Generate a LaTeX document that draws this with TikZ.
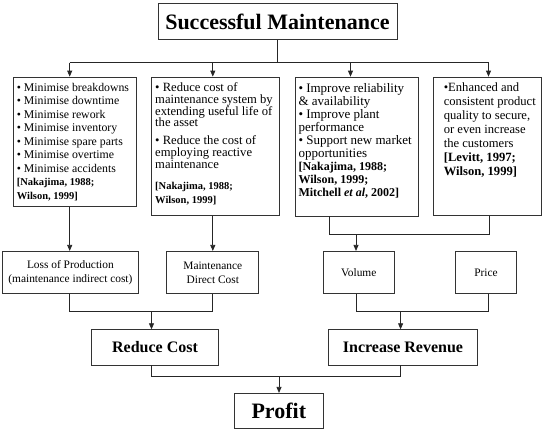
\documentclass[tikz,border=0pt]{standalone}
\usepackage{fontspec}
\setmainfont{Liberation Serif}
\usetikzlibrary{arrows.meta}

\tikzset{
  box/.style={draw=black!80,line width=0.75pt,inner sep=0pt},
  headbox/.style={box,font=\bfseries\fontsize{22}{24}\selectfont},
  sumbox/.style={box,font=\bfseries\fontsize{16}{18}\selectfont},
  costbox/.style={box,align=center,font=\fontsize{11.4}{13.8}\selectfont},
  infobox/.style={box,inner xsep=3.5pt,inner ysep=6pt},
  link/.style={black!85,line width=0.75pt},
}
\newcommand{\refs}[1]{\textbf{#1}}

\begin{document}
\begin{tikzpicture}[x=1pt,y=-1pt,>={Triangle[length=6pt,width=5pt]}]
  \useasboundingbox (0,0) rectangle (546,431);
  \node[headbox,minimum width=239pt,minimum height=36.3pt] (title) at (277.4,21.5) {Successful Maintenance};

  % what maintenance does
  \node[infobox,font=\fontsize{11.8}{13.5}\selectfont] (goals) at (74.65,141.85)
    {\parbox[c][117.7pt][t]{115.7pt}{\raggedright
      • Minimise breakdowns\\ • Minimise downtime\\ • Minimise rework\\
      • Minimise inventory\\ • Minimise spare parts\\ • Minimise overtime\\
      • Minimise accidents\\
      {\fontsize{10.5}{13.5}\selectfont\refs{[Nakajima, 1988;\\ Wilson, 1999]}}}};
  \node[infobox,font=\fontsize{12.6}{11.7}\selectfont] (asset) at (215.35,146.35)
    {\parbox[c][126.7pt][t]{120.3pt}{\raggedright
      • Reduce cost of\\ maintenance system by\\ extending useful life of\\ the asset\\[6pt]
      • Reduce the cost of\\ employing reactive\\ maintenance\\[6pt]
      {\fontsize{10.5}{15}\selectfont\refs{[Nakajima, 1988;\\[3pt] Wilson, 1999]}}}};
  \node[infobox,font=\fontsize{13}{13.1}\selectfont] (perf) at (356.65,146.5)
    {\parbox[c][127pt][t]{116.3pt}{\raggedright
      • Improve reliability\\ \& availability\\ • Improve plant\\ performance\\
      • Support new market\\ opportunities\\
      {\fontsize{12}{13.1}\selectfont\refs{[Nakajima, 1988;\\ Wilson, 1999;\\ Mitchell \textit{et al}, 2002]}}}};
  \node[infobox,font=\fontsize{12.6}{14}\selectfont] (quality) at (487.15,146.35)
    {\parbox[c][126.7pt][t]{100.7pt}{\raggedright\leftskip=7pt
      •Enhanced and\\ consistent product\\ quality to secure,\\ or even increase\\ the customers\\
      \refs{[Levitt, 1997;\\ Wilson, 1999]}}};

  % cost and revenue items
  \node[costbox,minimum width=135.2pt,minimum height=42.5pt] (loss) at (70.4,272.55)
    {Loss of Production\\(maintenance indirect cost)};
  \node[costbox,minimum width=92pt,minimum height=42.5pt] (direct) at (212.8,272.55)
    {Maintenance\\Direct Cost};
  \node[costbox,minimum width=71.7pt,minimum height=42.5pt] (volume) at (358.75,272.55) {Volume};
  \node[costbox,minimum width=60.9pt,minimum height=42.5pt] (price) at (486.05,272.55) {Price};

  \node[sumbox,minimum width=127.4pt,minimum height=35.3pt] (reduce) at (155,347.35) {Reduce Cost};
  \node[sumbox,minimum width=148.4pt,minimum height=35.3pt] (increase) at (403,347.35) {Increase Revenue};
  \node[headbox,minimum width=89pt,minimum height=35pt] (profit) at (278.8,410.8) {Profit};

  % junction points
  \coordinate (d1) at (69.7,62.7);  \coordinate (d2) at (212.8,62.7);
  \coordinate (d3) at (350.5,62.7); \coordinate (d4) at (488.5,62.7);
  \coordinate (e3) at (329.3,234);  \coordinate (e4) at (489,234);
  \coordinate (e0) at (356,234);
  \coordinate (f1) at (69.7,311.3); \coordinate (f2) at (212.8,311.3);
  \coordinate (f0) at (151.5,311.3);
  \coordinate (g1) at (356,311.3);  \coordinate (g2) at (488.7,311.3);
  \coordinate (g0) at (400.6,311.3);
  \coordinate (h1) at (151.7,376.7); \coordinate (h2) at (400,376.7);
  \coordinate (h0) at (279,376.7);

  \draw[link] (title.south) -- (title.south |- d1);
  \draw[link] (d1) -- (d4);
  \foreach \d/\b in {d1/goals,d2/asset,d3/perf,d4/quality}
    \draw[link,->] (\d) -- (\d |- \b.north);

  \draw[link,->] (goals.south -| d1) -- (d1 |- loss.north);
  \draw[link,->] (asset.south -| d2) -- (d2 |- direct.north);
  \draw[link] (perf.south -| e3) |- (e4) -- (quality.south -| e4);
  \draw[link,->] (e0) -- (volume.north -| e0);

  \draw[link] (loss.south -| f1) |- (f2) -- (direct.south -| f2);
  \draw[link,->] (f0) -- (reduce.north -| f0);
  \draw[link] (volume.south -| g1) |- (g2) -- (price.south -| g2);
  \draw[link,->] (g0) -- (increase.north -| g0);

  \draw[link] (reduce.south -| h1) |- (h2) -- (increase.south -| h2);
  \draw[link,->] (h0) -- (profit.north -| h0);
\end{tikzpicture}
\end{document}
